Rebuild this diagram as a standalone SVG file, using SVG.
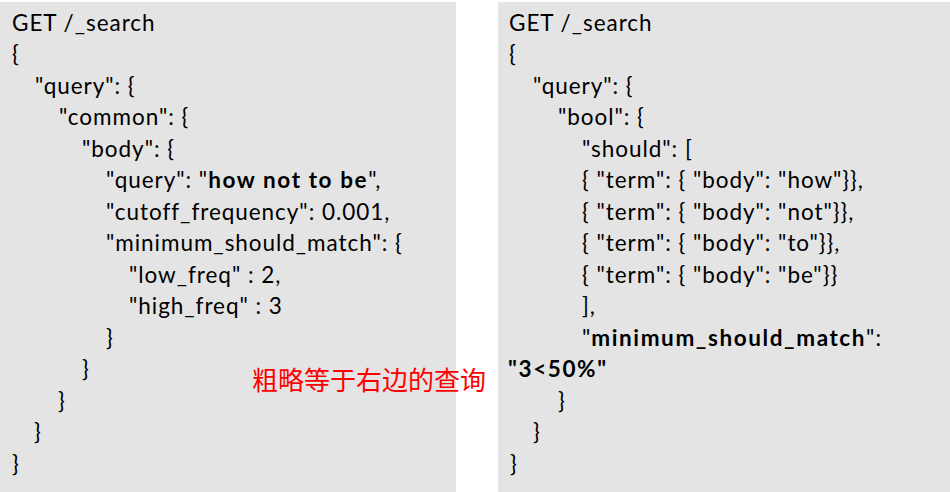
<svg xmlns="http://www.w3.org/2000/svg" width="950" height="492" viewBox="0 0 950 492">
<style>
.panel{fill:#e4e4e4}
.code{font-family:Lato,"Liberation Sans",sans-serif;font-size:22.5px;letter-spacing:0.95px;fill:#000}
.b{font-weight:bold;letter-spacing:1.6px}
.note{font-family:"Noto Sans CJK SC",sans-serif;font-size:26px;fill:#ff0000}
</style>
<rect width="950" height="492" fill="#ffffff"/>
<g id="left-panel">
<rect class="panel" x="0" y="2" width="456" height="490"/>
<text class="code" x="12" y="31">GET /_search</text>
<text class="code" x="12" y="62">{</text>
<text class="code" x="35" y="94">"query": {</text>
<text class="code" x="59" y="125">"common": {</text>
<text class="code" x="82" y="157">"body": {</text>
<text class="code" x="106" y="188">"query": "<tspan class="b">how not to be</tspan>",</text>
<text class="code" x="106" y="220">"cutoff_frequency": 0.001,</text>
<text class="code" x="106" y="251">"minimum_should_match": {</text>
<text class="code" x="129" y="283">"low_freq" : 2,</text>
<text class="code" x="129" y="314">"high_freq" : 3</text>
<text class="code" x="106" y="346">}</text>
<text class="code" x="82" y="377">}</text>
<text class="code" x="58" y="409">}</text>
<text class="code" x="34" y="440">}</text>
<text class="code" x="12" y="472">}</text>
</g>
<g id="note">
<text class="note" x="252" y="390">粗略等于右边的查询</text>
</g>
<g id="right-panel">
<rect class="panel" x="498" y="2" width="452" height="490"/>
<text class="code" x="509" y="31">GET /_search</text>
<text class="code" x="509" y="62">{</text>
<text class="code" x="533" y="94">"query": {</text>
<text class="code" x="558" y="125">"bool": {</text>
<text class="code" x="582" y="157">"should": [</text>
<text class="code" x="582" y="188">{ "term": { "body": "how"}},</text>
<text class="code" x="582" y="220">{ "term": { "body": "not"}},</text>
<text class="code" x="582" y="251">{ "term": { "body": "to"}},</text>
<text class="code" x="582" y="283">{ "term": { "body": "be"}}</text>
<text class="code" x="582" y="314">],</text>
<text class="code" x="582" y="346">"<tspan class="b">minimum_should_match</tspan>":</text>
<text class="code b" x="508" y="377">"3&lt;50%"</text>
<text class="code" x="558" y="409">}</text>
<text class="code" x="533" y="440">}</text>
<text class="code" x="510" y="472">}</text>
</g>
</svg>
